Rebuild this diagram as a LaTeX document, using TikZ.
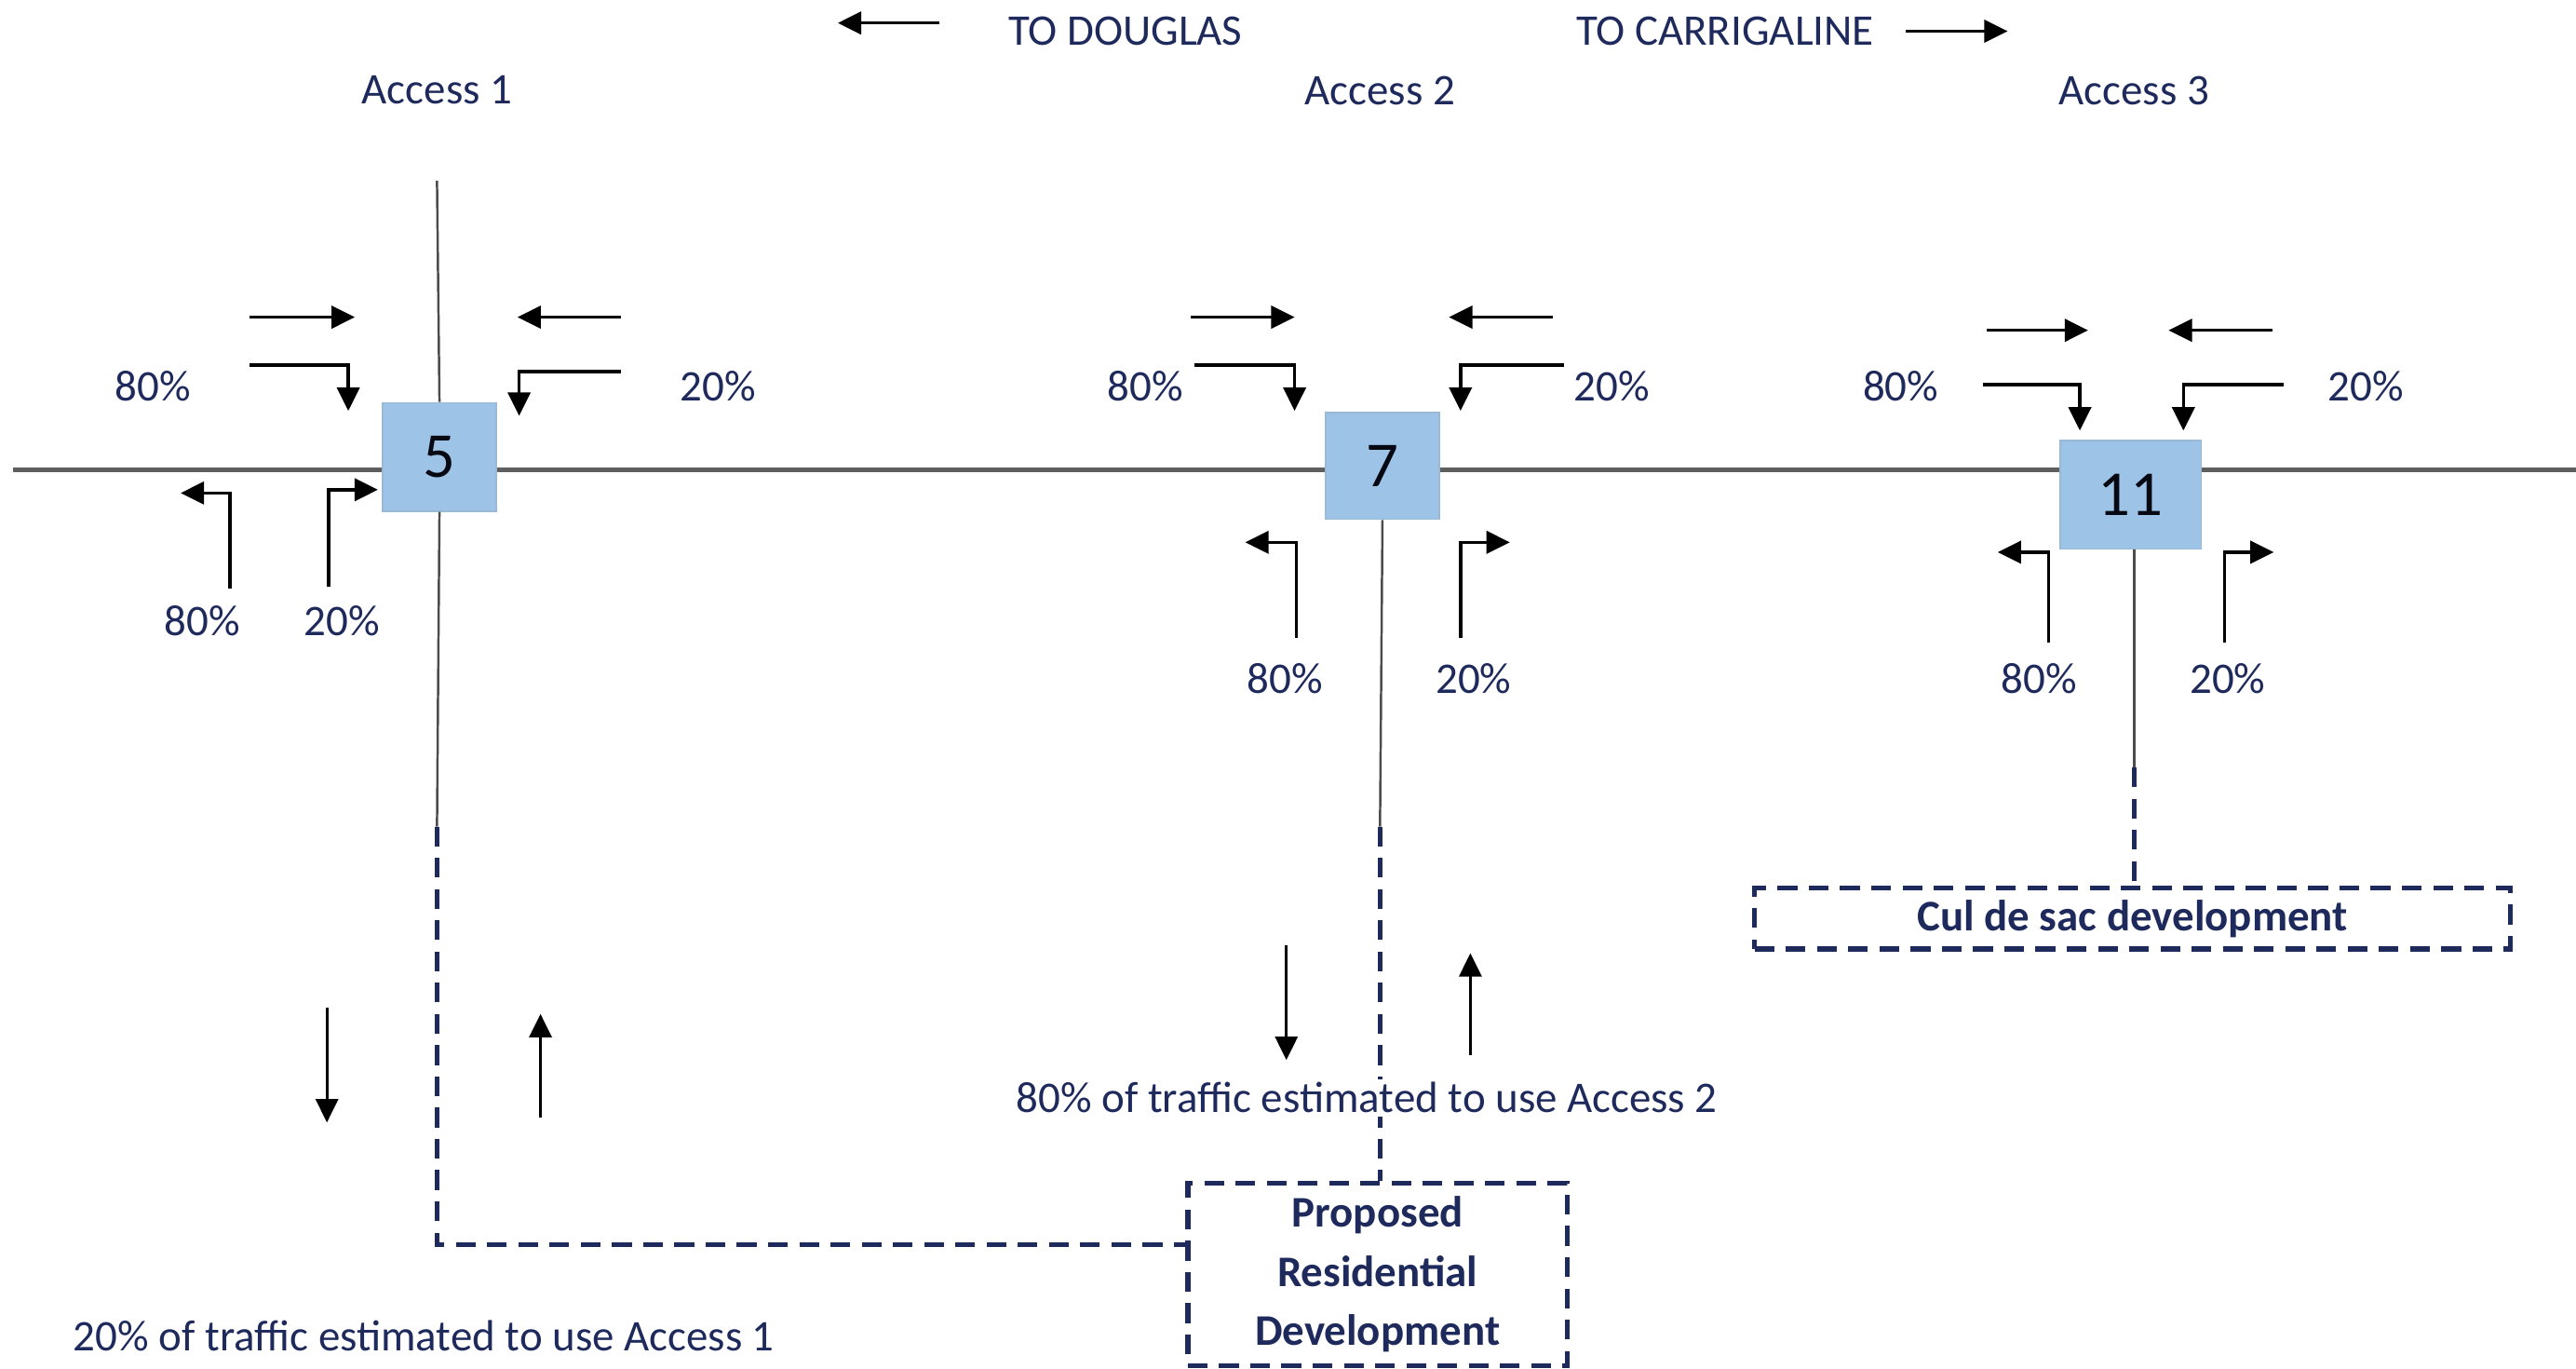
\documentclass[tikz,border=0pt]{standalone}
\usepackage{fontspec}
\setmainfont{Carlito}
\usepackage{tikz}
\usetikzlibrary{arrows.meta,positioning,calc}
\definecolor{navy}{HTML}{1F2A5C}
\definecolor{boxblue}{HTML}{9DC3E6}
\definecolor{roadgrey}{HTML}{5E5E5E}

\begin{document}
\begin{tikzpicture}[x=0.5pt,y=-0.5pt,
  font=\fontsize{13.3}{17}\selectfont,
  lbl/.style={text=navy,inner sep=1pt},
  jn/.style={fill=boxblue,draw=boxblue!85!gray,minimum width=34.5pt,minimum height=33pt,font=\fontsize{19.5}{22}\selectfont,text=black!80!navy},
  dev/.style={draw=navy,line width=1.5pt,dash pattern=on 6pt off 3.5pt,align=center,font=\fontsize{13.3}{18}\selectfont\bfseries,text=navy},
  road/.style={draw=roadgrey,line width=1.3pt},
  stem/.style={draw=black!70,line width=0.7pt},
  dline/.style={draw=navy,line width=1.5pt,dash pattern=on 6pt off 3.5pt},
  arr/.style={-{Triangle[length=2.5mm,width=2.4mm]},line width=1pt}
]
\useasboundingbox (0,0) rectangle (1568,833);

% main road
\coordinate (roadW) at (8,286);
\coordinate (roadE) at (1568,286);
\draw[road] (roadW) -- (roadE);

% direction labels
\node[lbl] (douglas) at (685,19) {TO DOUGLAS};
\node[lbl] (carrig) at (1050,19) {TO CARRIGALINE};
\coordinate (dw) at (510,14); \coordinate (de) at (572,14);
\coordinate (cw) at (1160,19); \coordinate (ce) at (1222,19);
\draw[arr] (de) -- (dw);
\draw[arr] (cw) -- (ce);

\node[lbl] (acc1) at (266,55) {Access 1};
\node[lbl] (acc2) at (840,55) {Access 2};
\node[lbl] (acc3) at (1299,55) {Access 3};

% junctions
\node[jn] (j1) at (267.5,278) {5};
\node[jn,minimum height=32.5pt] (j2) at (841.5,283.5) {7};
\node[jn,minimum width=43pt] (j3) at (1297,301) {11};

\node[dev,minimum width=115.5pt,minimum height=55.5pt] (prop) at (838.5,775.5)
  {Proposed\\Residential\\Development};
\node[dev,minimum width=230pt,minimum height=18.5pt,inner sep=2pt] (culdesac) at (1298,559)
  {Cul de sac development};

% side roads
\coordinate (t1) at (266,110);
\coordinate (s1) at (266,503);
\coordinate (s2) at (840,503);
\coordinate (s3) at (1299,467);
\draw[stem] (t1) -- (j1.north);
\draw[stem] (j1.south) -- (s1);
\draw[stem] (j2.south) -- (s2);
\draw[stem] (j3.south -| s3) -- (s3);
\draw[dline] (s1) |- ([yshift=9pt]prop.west);
\draw[dline] (s2) -- (s2 |- prop.north);
\draw[dline] (s3) -- (s3 |- culdesac.north);

% turning movements, access 1
\draw[arr] (152,193) -- (216,193);
\draw[arr] (152,222) -| (212,250);
\draw[arr] (378,193) -- (315,193);
\draw[arr] (378,226) -| (316,253);
\draw[arr] (140,358) |- (110,300);
\draw[arr] (200,357) |- (230,298);
\node[lbl] at (93,235) {80\%};
\node[lbl] at (437,235) {20\%};
\node[lbl] at (123,378) {80\%};
\node[lbl] at (208,378) {20\%};

% access 2
\draw[arr] (725,193) -- (788,193);
\draw[arr] (727,222) -| (788,250);
\draw[arr] (945,193) -- (882,193);
\draw[arr] (952,222) -| (889,250);
\draw[arr] (789,388) |- (758,330);
\draw[arr] (889,388) |- (919,330);
\node[lbl] at (697,235) {80\%};
\node[lbl] at (981,235) {20\%};
\node[lbl] at (782,413) {80\%};
\node[lbl] at (897,413) {20\%};

% access 3
\draw[arr] (1209,201) -- (1271,201);
\draw[arr] (1207,234) -| (1266,262);
\draw[arr] (1383,201) -- (1320,201);
\draw[arr] (1390,234) -| (1329,262);
\draw[arr] (1247,391) |- (1216,336);
\draw[arr] (1354,391) |- (1384,336);
\node[lbl] at (1157,235) {80\%};
\node[lbl] at (1440,235) {20\%};
\node[lbl] at (1241,413) {80\%};
\node[lbl] at (1356,413) {20\%};

% development traffic
\draw[arr,line width=0.8pt] (199,613) -- (199,683);
\draw[arr,line width=0.8pt] (329,680) -- (329,617);
\draw[arr,line width=0.8pt] (783,575) -- (783,645);
\draw[arr,line width=0.8pt] (895,642) -- (895,580);
\node[lbl,fill=white] (split2) at (832,668) {80\% of traffic estimated to use Access 2};
\node[lbl] (split1) at (258,813) {20\% of traffic estimated to use Access 1};
\end{tikzpicture}
\end{document}
